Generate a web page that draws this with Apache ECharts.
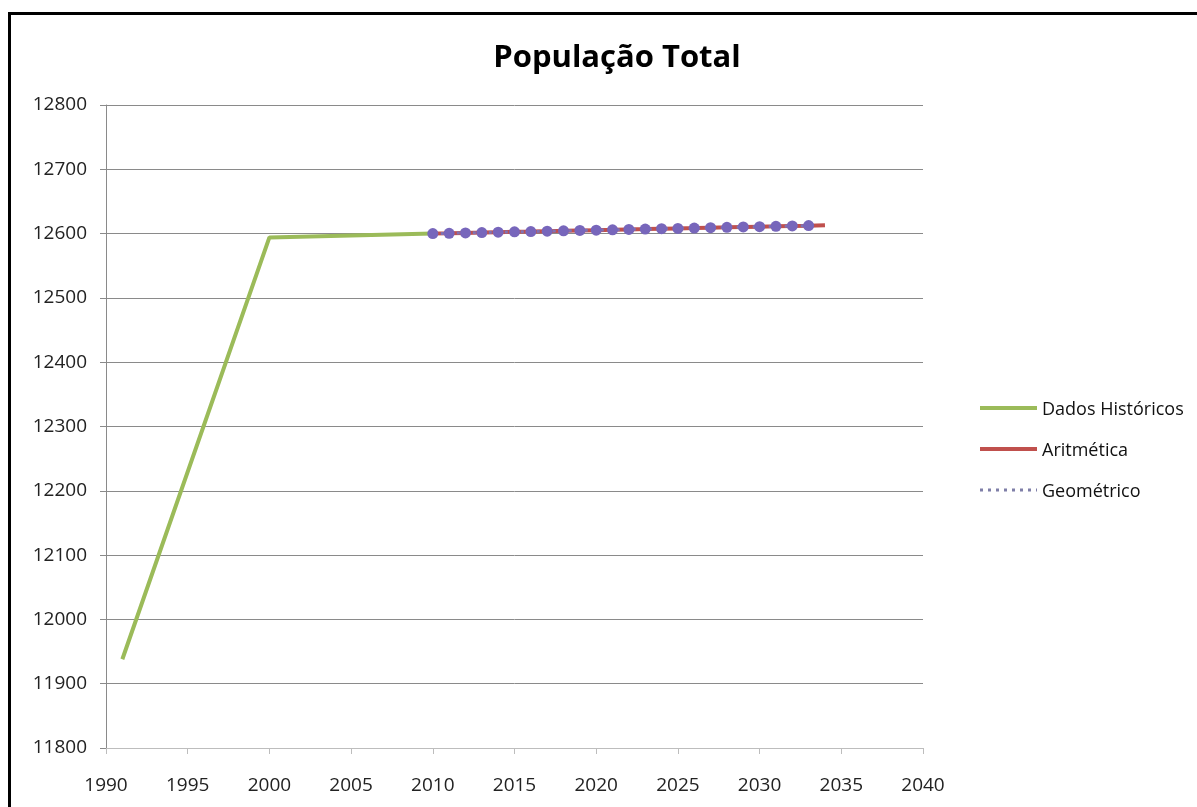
<!DOCTYPE html>
<html>
<head>
<meta charset="utf-8">
<title>População Total</title>
<script src="https://cdn.jsdelivr.net/npm/echarts@6/dist/echarts.min.js"></script>
<style>
  html, body { margin: 0; padding: 0; background: #fff; overflow: hidden; }
  #frame { position: absolute; left: 8px; top: 12px; width: 2000px; height: 2000px;
           border: 3px solid #000; box-sizing: border-box; }
  #chart { position: absolute; left: 0; top: 0; width: 1197px; height: 807px; }
</style>
</head>
<body>
<div id="frame"></div>
<div id="chart"></div>
<script>
// Historical census population
const histYears = [1991, 2000, 2010];
const histPop = [11938, 12594, 12600];

// Arithmetic projection, 2010–2034
const aritYears = [2010, 2011, 2012, 2013, 2014, 2015, 2016, 2017, 2018, 2019, 2020, 2021,
                   2022, 2023, 2024, 2025, 2026, 2027, 2028, 2029, 2030, 2031, 2032, 2033, 2034];
const aritPop = [12600.0, 12600.5, 12601.1, 12601.6, 12602.2, 12602.7, 12603.2, 12603.8,
                 12604.3, 12604.9, 12605.4, 12605.9, 12606.5, 12607.0, 12607.6, 12608.1,
                 12608.6, 12609.2, 12609.7, 12610.3, 12610.8, 12611.3, 12611.9, 12612.4, 12613.0];

// Geometric projection, 2010–2033
const geoYears = [2010, 2011, 2012, 2013, 2014, 2015, 2016, 2017, 2018, 2019, 2020, 2021,
                  2022, 2023, 2024, 2025, 2026, 2027, 2028, 2029, 2030, 2031, 2032, 2033];
const geoPop = [12600.0, 12600.5, 12601.1, 12601.6, 12602.2, 12602.7, 12603.2, 12603.8,
                12604.3, 12604.9, 12605.4, 12605.9, 12606.5, 12607.0, 12607.6, 12608.1,
                12608.6, 12609.2, 12609.7, 12610.3, 12610.8, 12611.3, 12611.9, 12612.5];

// Axis ranges
const xMin = 1990, xMax = 2040, xStep = 5;
const yMin = 11800, yMax = 12800, yStep = 100;

const seriesNames = ['Dados Históricos', 'Aritmética', 'Geométrico'];

const pairs = (xs, ys) => xs.map((x, i) => [x, ys[i]]);
const plain = v => String(v);

const FONT = '"Open Sans", "Noto Sans", sans-serif';

const chart = echarts.init(document.getElementById('chart'), null, { renderer: 'canvas' });

chart.setOption({
  animation: false,
  backgroundColor: 'transparent',
  title: {
    text: 'População Total',
    left: 612,
    top: 38,
    textAlign: 'center',
    textStyle: { fontFamily: FONT, fontSize: 31, fontWeight: 'bold', color: '#000' }
  },
  grid: { left: 106, right: 274, top: 105, bottom: 59, containLabel: false },
  legend: {
    orient: 'vertical',
    left: 975,
    top: 395,
    itemWidth: 57,
    itemHeight: 14,
    itemGap: 21,
    textStyle: { fontFamily: FONT, fontSize: 18, color: '#111', lineHeight: 20 },
    data: [
      { name: seriesNames[0], icon: 'none' },
      { name: seriesNames[1], icon: 'none' },
      { name: seriesNames[2], icon: 'none' }
    ]
  },
  xAxis: {
    type: 'value',
    min: xMin,
    max: xMax,
    interval: xStep,
    axisLine: { lineStyle: { color: '#bdbdbd', width: 1 } },
    axisTick: { show: true, length: 6, lineStyle: { color: '#bdbdbd' } },
    splitLine: { show: false },
    axisLabel: { fontFamily: FONT, fontSize: 19, color: '#222', margin: 28, formatter: plain }
  },
  yAxis: {
    type: 'value',
    min: yMin,
    max: yMax,
    interval: yStep,
    axisLine: { show: true, lineStyle: { color: '#8a8a8a', width: 1 } },
    axisTick: { show: true, length: 6, lineStyle: { color: '#8a8a8a' } },
    splitLine: { show: true, lineStyle: { color: '#8a8a8a', width: 1 } },
    axisLabel: { fontFamily: FONT, fontSize: 19, color: '#222', margin: 19, formatter: plain }
  },
  series: [
    {
      name: seriesNames[0],
      type: 'line',
      data: pairs(histYears, histPop),
      showSymbol: false,
      symbol: 'none',
      lineStyle: { color: '#9bbb59', width: 4 },
      itemStyle: { color: '#9bbb59' },
      z: 2
    },
    {
      name: seriesNames[1],
      type: 'line',
      data: pairs(aritYears, aritPop),
      symbol: 'none',
      lineStyle: { color: '#c0504d', width: 4 },
      itemStyle: { color: '#c0504d' },
      z: 3
    },
    {
      name: seriesNames[2],
      type: 'line',
      data: pairs(geoYears, geoPop),
      symbol: 'circle',
      symbolSize: 11,
      showSymbol: true,
      lineStyle: { color: '#7f72b4', width: 3, type: [3, 5] },
      itemStyle: { color: '#7766bb' },
      z: 4
    }
  ]
});

// Legend keys drawn as plain strokes beside the legend labels
const keyX0 = 980, keyX1 = 1037;
const keyYs = [408, 449, 490];
chart.setOption({
  graphic: [
    { type: 'line', shape: { x1: keyX0, y1: keyYs[0], x2: keyX1, y2: keyYs[0] },
      style: { stroke: '#9bbb59', lineWidth: 4 } },
    { type: 'line', shape: { x1: keyX0, y1: keyYs[1], x2: keyX1, y2: keyYs[1] },
      style: { stroke: '#c0504d', lineWidth: 4 } },
    { type: 'line', shape: { x1: keyX0, y1: keyYs[2], x2: keyX1, y2: keyYs[2] },
      style: { stroke: '#7f7fa8', lineWidth: 3, lineDash: [3, 5] } }
  ]
});
</script>
</body>
</html>
